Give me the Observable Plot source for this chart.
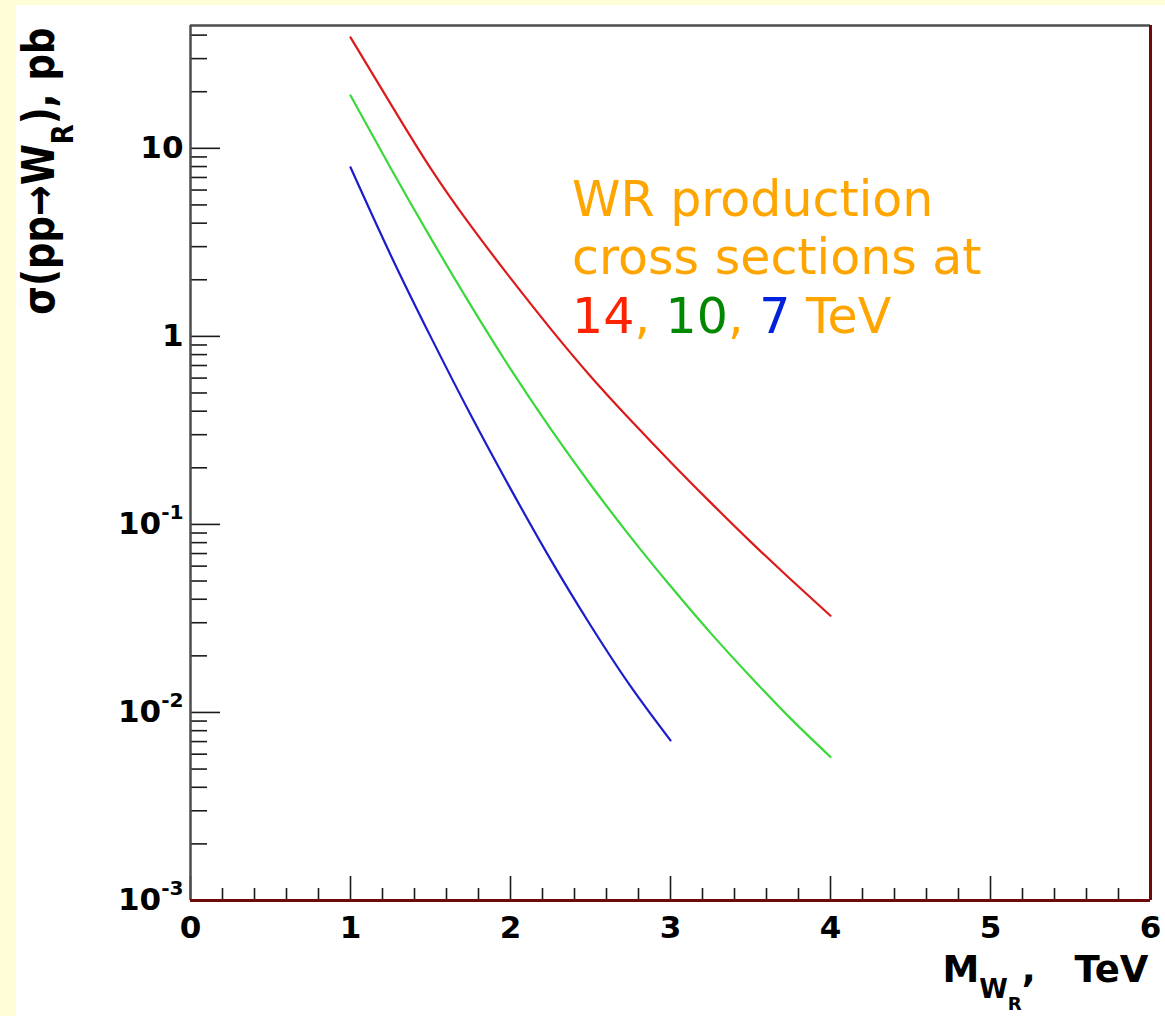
<!DOCTYPE html>
<html><head><meta charset="utf-8">
<script src="https://cdn.jsdelivr.net/npm/d3@7"></script>
<script src="https://cdn.jsdelivr.net/npm/@observablehq/plot@0.6"></script>
<style>
html,body{margin:0;padding:0;background:#fffdd8;}
#wrap{position:relative;width:1165px;height:1016px;overflow:hidden}
#panel{position:absolute;left:16px;top:5px;right:0;bottom:0;background:#ffffff}
#wrap svg{position:absolute;left:0;top:0}
</style></head><body>
<div id="wrap"><div id="panel"></div></div>
<script>
// ---- data ----
const massTeV = [1, 1.25, 1.5, 1.75, 2, 2.25, 2.5, 2.75, 3, 3.25, 3.5, 3.75, 4];
const massTeV7 = [1, 1.25, 1.5, 1.75, 2, 2.25, 2.5, 2.75, 3];
const xsec14 = [38.9, 17.3, 7.85, 3.89, 2.04, 1.10, 0.614, 0.359, 0.215, 0.131, 0.081, 0.0511, 0.0327];
const xsec10 = [19.1, 7.89, 3.35, 1.47, 0.671, 0.323, 0.163, 0.0859, 0.047, 0.0265, 0.0155, 0.0093, 0.0058];
const xsec7 = [7.93, 2.72, 1.00, 0.384, 0.155, 0.0652, 0.0291, 0.0138, 0.0071];
const energies = ["14 TeV", "10 TeV", "7 TeV"];
const curveColors = ["#dd1a1a", "#3ad83a", "#1c1ccc"];

const xDomain = [0, 6];
const yDomain = [1e-3, 45];
const xMajorTicks = [0, 1, 2, 3, 4, 5, 6];
const xTickLabels = ["0", "1", "2", "3", "4", "5", "6"];
const xMinorTicks = d3.range(0, 6.001, 0.2).filter(v => Math.abs(v - Math.round(v)) > 1e-6);
const yMajorTicks = [1e-3, 1e-2, 1e-1, 1, 10];
const yTickLabels = ["10^{-3}", "10^{-2}", "10^{-1}", "1", "10"];
const yMinorTicks = yMajorTicks.flatMap(d => [2, 3, 4, 5, 6, 7, 8, 9].map(k => k * d)).filter(v => v <= yDomain[1]);

const yAxisLabel = "σ(pp→W_{R}), pb";
const xAxisLabel = "M_{W_{R}}, \u00a0\u00a0TeV";
const noteLines = ["WR production", "cross sections at", "14, 10, 7 TeV"];
const noteParts = ["14", ", ", "10", ", ", "7", " TeV"];
const notePartColors = ["#ff2200", "#ffa500", "#008800", "#ffa500", "#0022dd", "#ffa500"];
const noteX = 2.385, noteY = 1.04;

// ---- layout ----
const W = 1165, H = 1016;
const M = {left: 190, right: 15, top: 25, bottom: 116};
const plotW = W - M.left - M.right;
const plotH = H - M.top - M.bottom;
const axisFont = "DejaVu Sans, Liberation Sans, sans-serif";

const series = [xsec14, xsec10, xsec7];
const masses = [massTeV, massTeV, massTeV7];
const rows = energies.flatMap((e, i) => masses[i].map((m, j) => ({energy: e, mass: m, xs: series[i][j]})));

const tickStyle = {stroke: "#1a1a1a", strokeWidth: 1.6};

const chart = Plot.plot({
  width: W, height: H,
  marginLeft: M.left, marginRight: M.right, marginTop: M.top, marginBottom: M.bottom,
  style: {background: "transparent", overflow: "visible", fontFamily: axisFont},
  x: {domain: xDomain},
  y: {type: "log", domain: yDomain},
  color: {domain: energies, range: curveColors},
  marks: [
    Plot.ruleY(yMinorTicks, {insetRight: plotW - 17, ...tickStyle}),
    Plot.ruleY(yMajorTicks, {insetRight: plotW - 30, ...tickStyle}),
    Plot.ruleX(xMinorTicks, {insetTop: plotH - 12, ...tickStyle}),
    Plot.ruleX(xMajorTicks, {insetTop: plotH - 24, ...tickStyle}),
    Plot.line(rows, {x: "mass", y: "xs", z: "energy", stroke: "energy", strokeWidth: 2.2, curve: "natural"}),
    Plot.ruleY([yDomain[1]], {stroke: "#4d4d4d", strokeWidth: 2.5}),
    Plot.ruleX([xDomain[0]], {stroke: "#4d4d4d", strokeWidth: 2.5}),
    Plot.ruleY([yDomain[0]], {stroke: "#6e0a0a", strokeWidth: 3}),
    Plot.ruleX([xDomain[1]], {stroke: "#6e0a0a", strokeWidth: 3}),
    Plot.axisX({ticks: xMajorTicks, tickSize: 0, tickPadding: 15, tickFormat: d => xTickLabels[xMajorTicks.indexOf(d)],
      fontSize: 31, fontWeight: "bold", fontFamily: axisFont, label: null}),
    Plot.axisY({ticks: yMajorTicks, tickSize: 0, tickPadding: 7, tickFormat: d => yTickLabels[yMajorTicks.indexOf(d)],
      fontSize: 31, fontWeight: "bold", fontFamily: axisFont, label: null}),
    Plot.text([yAxisLabel], {frameAnchor: "top-left", dx: -137, dy: 2, rotate: -90, textAnchor: "end", lineAnchor: "bottom",
      fontSize: 37, fontWeight: "bold", fontFamily: axisFont, fill: "#000"}),
    Plot.text([xAxisLabel], {frameAnchor: "bottom-right", dx: -2, dy: 81, textAnchor: "end", lineAnchor: "bottom",
      fontSize: 37, fontWeight: "bold", fontFamily: axisFont, fill: "#000"}),
    Plot.text([noteLines.join("\n")], {x: noteX, y: noteY, textAnchor: "start", lineAnchor: "bottom", lineHeight: 1.2,
      fontSize: 49, fontFamily: "DejaVu Sans, Verdana, sans-serif", fill: "#ffa500"})
  ]
});

// ---- rich text (sub/superscripts) ----
function richSegments(s, base) {
  const out = [];
  let i = 0;
  function walk(size, shift) {
    let buf = "";
    const flush = () => { if (buf) out.push({text: buf, size, shift}); buf = ""; };
    while (i < s.length) {
      const c = s[i];
      if (c === "}") { i++; flush(); return; }
      if ((c === "_" || c === "^") && s[i + 1] === "{") {
        flush(); i += 2;
        if (c === "_") walk(size * 0.7, shift + 0.45 * size);
        else walk(size * 0.65, shift - 0.5 * size);
        continue;
      }
      buf += c; i++;
    }
    flush();
  }
  walk(base, 0);
  return out;
}
function applyRich(el, s) {
  const base = parseFloat(el.getAttribute("font-size") || getComputedStyle(el).fontSize) || 30;
  const segs = richSegments(s, base);
  el.textContent = "";
  let prev = 0;
  for (const seg of segs) {
    const t = document.createElementNS("http://www.w3.org/2000/svg", "tspan");
    t.setAttribute("font-size", seg.size + "px");
    if (seg.shift !== prev) t.setAttribute("dy", (seg.shift - prev) + "px");
    prev = seg.shift;
    t.textContent = seg.text;
    el.appendChild(t);
  }
}
document.getElementById("wrap").appendChild(chart);
for (const el of chart.querySelectorAll("text")) {
  const s = el.textContent;
  if (el.children.length === 0 && /[_^]\{/.test(s)) {
    applyRich(el, s);
    if (s === yAxisLabel) {
      const tr = el.getAttribute("transform") || "";
      el.setAttribute("transform", tr + " scale(1,1.18)");
    }
  }
}
// colour the energies in the note
for (const ts of chart.querySelectorAll("tspan")) {
  if (ts.textContent === noteLines[2]) {
    ts.textContent = "";
    noteParts.forEach((p, i) => {
      const t = document.createElementNS("http://www.w3.org/2000/svg", "tspan");
      t.setAttribute("fill", notePartColors[i]);
      t.textContent = p;
      ts.appendChild(t);
    });
  }
}
</script></body></html>
